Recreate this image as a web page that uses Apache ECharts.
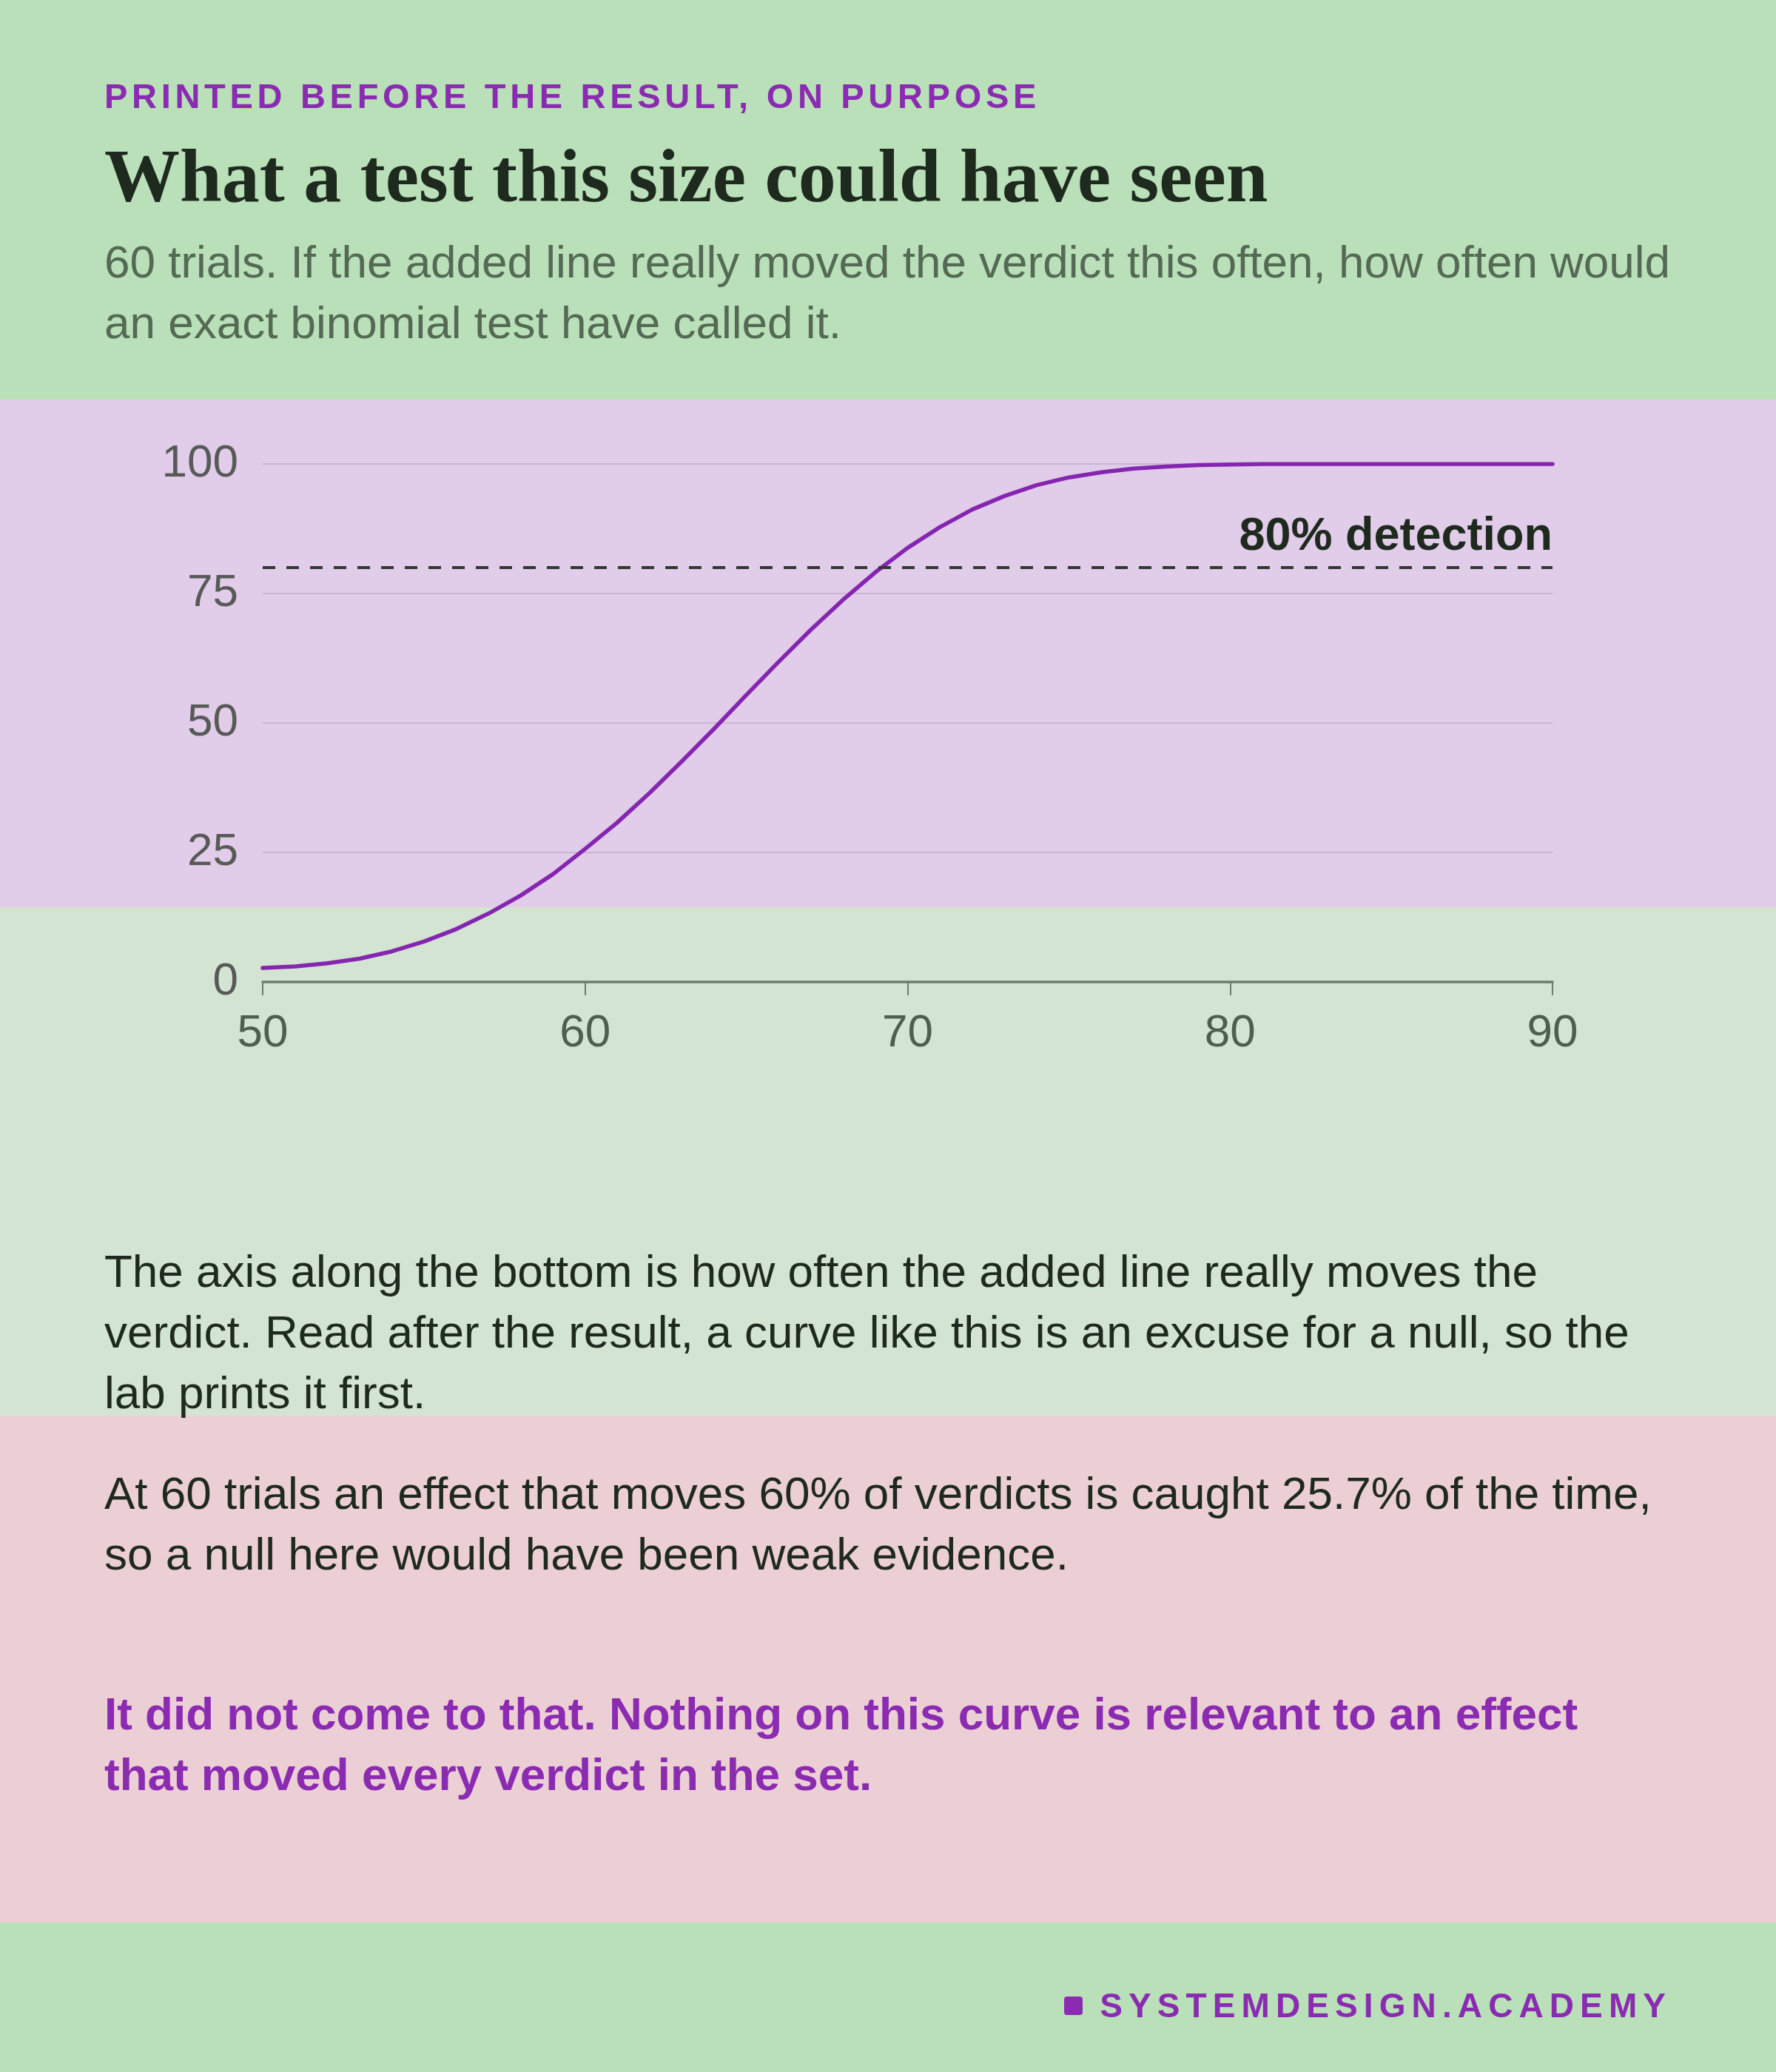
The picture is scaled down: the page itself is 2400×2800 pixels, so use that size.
<!DOCTYPE html>
<html>
<head>
<meta charset="utf-8">
<script src="https://cdn.jsdelivr.net/npm/echarts@6/dist/echarts.min.js"></script>
<style>
  html, body { margin: 0; padding: 0; }
  body { width: 2400px; height: 2800px; position: relative; overflow: hidden; font-family: "Liberation Sans", Arial, sans-serif; }
  .band { position: absolute; left: 0; width: 2400px; }
  .txt { position: absolute; left: 141px; margin: 0; white-space: nowrap; }
  #chart { position: absolute; left: 0; top: 0; width: 2400px; height: 2800px; }
</style>
</head>
<body>
<div class="band" style="top:0;height:540px;background:#bae0b9"></div>
<div class="band" style="top:540px;height:686px;background:#e1cce9"></div>
<div class="band" style="top:1226px;height:687px;background:#d4e4d2"></div>
<div class="band" style="top:1913px;height:685px;background:#eccfd5"></div>
<div class="band" style="top:2598px;height:202px;background:#bae0b9"></div>

<div id="chart"></div>

<p class="txt" style="top:106px;font-size:47px;line-height:47px;font-weight:bold;letter-spacing:5.7px;color:#8a2bb1">PRINTED BEFORE THE RESULT, ON PURPOSE</p>
<p class="txt" style="top:187px;font-family:'Liberation Serif',serif;font-size:102px;line-height:102px;font-weight:bold;color:#1f2a1f">What a test this size could have seen</p>
<p class="txt" style="top:313px;font-size:62px;line-height:82px;color:#546a54">60 trials. If the added line really moved the verdict this often, how often would<br>an exact binomial test have called it.</p>

<p class="txt" style="top:1677px;font-size:62px;line-height:82px;color:#1f2a1f">The axis along the bottom is how often the added line really moves the<br>verdict. Read after the result, a curve like this is an excuse for a null, so the<br>lab prints it first.</p>
<p class="txt" style="top:1977px;font-size:62px;line-height:82px;color:#1f2a1f">At 60 trials an effect that moves 60% of verdicts is caught 25.7% of the time,<br>so a null here would have been weak evidence.</p>
<p class="txt" style="top:2275px;font-size:62px;line-height:82px;font-weight:bold;color:#8a2bb1">It did not come to that. Nothing on this curve is relevant to an effect<br>that moved every verdict in the set.</p>

<div style="position:absolute;right:149px;top:2687px;height:46px;display:flex;align-items:center;color:#8a2bb1;">
  <span style="display:inline-block;width:25px;height:25px;background:#8a2bb1;border-radius:4px;margin-right:23px"></span>
  <span style="font-size:46px;line-height:46px;font-weight:bold;letter-spacing:8.1px;margin-right:-8.1px">SYSTEMDESIGN.ACADEMY</span>
</div>

<script>
// Effect size: share of verdicts the added line really moves (%)
const effectPct = [50,51,52,53,54,55,56,57,58,59,60,61,62,63,64,65,66,67,68,69,70,
                   71,72,73,74,75,76,77,78,79,80,81,82,83,84,85,86,87,88,89,90];
// Detection rate of an exact binomial test at 60 trials (%)
const detectionPct = [2.7,3.0,3.6,4.5,5.9,7.8,10.2,13.2,16.7,20.8,25.7,30.8,36.5,42.6,48.9,55.4,61.8,68.0,73.8,79.1,83.8,
                      87.8,91.2,93.8,95.9,97.4,98.4,99.1,99.5,99.8,99.9,100,100,100,100,100,100,100,100,100,100];
const xTicks = [50, 60, 70, 80, 90];
const yTicks = [0, 25, 50, 75, 100];
const thresholdPct = 80;
const thresholdLabel = '80% detection';

const chart = echarts.init(document.getElementById('chart'), null, { renderer: 'canvas' });
const font = "'Liberation Sans', Arial, sans-serif";
chart.setOption({
  animation: false,
  backgroundColor: 'transparent',
  grid: { left: 355, right: 302, top: 627, bottom: 1473 },
  xAxis: {
    type: 'value', min: xTicks[0], max: xTicks[xTicks.length - 1], interval: 10,
    axisLine: { show: true, lineStyle: { color: '#6b7d6b', width: 3.5 } },
    axisTick: { show: true, length: 18, lineStyle: { color: '#6b7d6b', width: 2 } },
    axisLabel: { margin: 39, fontSize: 62, color: '#4f5f4f', fontFamily: font },
    splitLine: { show: false }
  },
  yAxis: {
    type: 'value', min: yTicks[0], max: yTicks[yTicks.length - 1], interval: 25,
    axisLine: { show: false }, axisTick: { show: false },
    axisLabel: { margin: 33, fontSize: 62, color: '#575a57', fontFamily: font, padding: [7, 0, 0, 0] },
    splitLine: { show: true, lineStyle: { color: '#c9b6d4', width: 2 } }
  },
  series: [{
    type: 'line',
    data: effectPct.map((x, i) => [x, detectionPct[i]]),
    showSymbol: false, smooth: false,
    lineStyle: { color: '#8526b0', width: 5.5, cap: 'round', join: 'round' },
    markLine: {
      silent: true, symbol: ['none', 'none'],
      lineStyle: { type: [17, 15], color: '#333833', width: 4 },
      label: { show: true, position: 'insideEndTop', formatter: thresholdLabel, distance: [0, 10],
               fontSize: 63, fontWeight: 'bold', color: '#1f2a1f', fontFamily: font },
      data: [{ yAxis: thresholdPct }]
    }
  }]
});
</script>
</body>
</html>
